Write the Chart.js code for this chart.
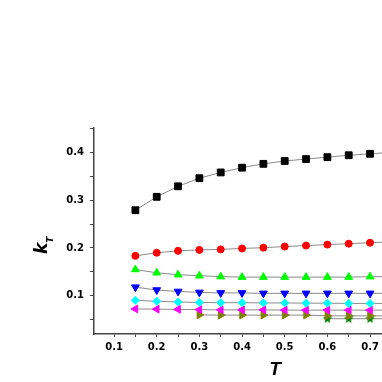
<!DOCTYPE html>
<html><head><meta charset="utf-8">
<script src="https://cdn.jsdelivr.net/npm/chart.js@4"></script>
<style>html,body{margin:0;padding:0;background:#fff}canvas{display:block}</style>
</head><body>
<canvas id="c" width="382" height="382"></canvas>
<script>
const T = [0.15,0.2,0.25,0.3,0.35,0.4,0.45,0.5,0.55,0.6,0.65,0.7,0.75];
const kSquare   = [0.279,0.307,0.329,0.346,0.358,0.368,0.376,0.382,0.386,0.390,0.394,0.397,0.400];
const kCircle   = [0.1835,0.190,0.194,0.196,0.197,0.199,0.2006,0.203,0.205,0.207,0.209,0.211,0.213];
const kTriUp    = [0.155,0.148,0.144,0.142,0.140,0.139,0.139,0.139,0.139,0.139,0.139,0.140,0.140];
const kTriDown  = [0.118,0.112,0.109,0.107,0.106,0.106,0.105,0.105,0.105,0.105,0.105,0.105,0.105];
const kDiamond  = [0.0905,0.0885,0.087,0.086,0.0855,0.0855,0.085,0.085,0.0845,0.0845,0.084,0.084,0.084];
const kTriLeft  = [0.0725,0.072,0.0715,0.071,0.0705,0.0705,0.0705,0.070,0.070,0.070,0.070,0.070,0.070];
const T_olive   = [0.3,0.35,0.4,0.45,0.5,0.55,0.6,0.65,0.7,0.75];
const kTriRight = [0.060,0.0595,0.0595,0.0595,0.0595,0.0595,0.058,0.058,0.058,0.058];
const T_star    = [0.6,0.65,0.7,0.75];
const kStar     = [0.052,0.052,0.052,0.052];
const xTicks = [0.1,0.15,0.2,0.25,0.3,0.35,0.4,0.45,0.5,0.55,0.6,0.65,0.7];
const yTicks = [0.05,0.1,0.15,0.2,0.25,0.3,0.35,0.4,0.45];

function pts(xs, ys){ return xs.map((x,i)=>({x:x,y:ys[i]})); }

function starCanvas(color){
  const c = document.createElement('canvas');
  c.width = 11; c.height = 11;
  const g = c.getContext('2d');
  g.fillStyle = color;
  g.beginPath();
  for (let i=0;i<10;i++){
    const r = i%2===0 ? 5 : 2.2;
    const a = -Math.PI/2 + i*Math.PI/5;
    const px = 5.5 + r*Math.cos(a), py = 5.8 + r*Math.sin(a);
    if(i===0) g.moveTo(px,py); else g.lineTo(px,py);
  }
  g.closePath(); g.fill();
  return c;
}

function ds(data, color, style, radius, rot){
  return {data:data, borderColor:'#8a8a8a', borderWidth:1, backgroundColor:color,
    pointBackgroundColor:color, pointBorderColor:color, pointBorderWidth:1,
    pointStyle:style, pointRadius:radius, pointRotation:rot||0, tension:0, fill:false};
}

const titles = {
  id:'titles',
  afterDraw(chart){
    const ctx = chart.ctx;
    ctx.save();
    ctx.fillStyle = '#000';
    ctx.font = 'italic bold 19px "Liberation Sans", Arial, sans-serif';
    ctx.textAlign = 'center';
    ctx.textBaseline = 'alphabetic';
    ctx.fillText('T', 275, 375);
    ctx.translate(47, 254);
    ctx.rotate(-Math.PI/2);
    ctx.textAlign = 'left';
    ctx.font = 'italic bold 17px "DejaVu Sans", sans-serif';
    ctx.fillText('k', 0, 0);
    const w = ctx.measureText('k').width;
    ctx.font = 'italic bold 9px "DejaVu Sans", sans-serif';
    ctx.fillText('T', w, 6);
    ctx.restore();
  }
};

const tickFont = {family:'"DejaVu Sans", sans-serif', weight:'bold', size:10};

new Chart(document.getElementById('c'), {
  type:'line',
  data:{datasets:[
    ds(pts(T,kSquare),'#000000','rect',4.8),
    ds(pts(T,kCircle),'#ff0000','circle',3.5),
    ds(pts(T,kTriUp),'#00ff00','triangle',4.5),
    ds(pts(T,kTriDown),'#0000ff','triangle',4.5,180),
    ds(pts(T,kDiamond),'#00ffff','rectRot',4),
    ds(pts(T,kTriLeft),'#ff00ff','triangle',4.5,270),
    ds(pts(T_olive,kTriRight),'#808000','triangle',4.5,90),
    ds(pts(T_star,kStar),'#008000',starCanvas('#008000'),5)
  ]},
  options:{
    responsive:false, animation:false,
    layout:{autoPadding:false, padding:{top:128,left:0,right:0,bottom:0}},
    plugins:{legend:{display:false}, tooltip:{enabled:false}},
    scales:{
      x:{type:'linear', min:0.053, max:0.728,
        afterBuildTicks(s){ s.ticks = xTicks.map(v=>({value:v})); },
        afterFit(s){ s.height = 48; s.paddingRight = 0; s.paddingLeft = 0; },
        ticks:{autoSkip:false, maxRotation:0, padding:4, color:'#000', font:tickFont,
          callback:(v)=> (Math.round(v*100)%10===0 ? v.toFixed(1) : '')},
        grid:{drawOnChartArea:false, drawTicks:true, tickLength:3, color:'#444', tickWidth:1},
        border:{display:true, color:'#444', width:1.5}
      },
      y:{type:'linear', min:0.02, max:0.451,
        afterBuildTicks(s){ s.ticks = yTicks.map(v=>({value:v})); },
        afterFit(s){ s.width = 94; s.paddingTop = 0; s.paddingBottom = 0; },
        ticks:{autoSkip:false, padding:6, color:'#000', font:tickFont,
          callback:(v)=> (Math.round(v*100)%10===0 ? v.toFixed(1) : '')},
        grid:{drawOnChartArea:false, drawTicks:true, tickLength:4, color:'#444', tickWidth:1},
        border:{display:true, color:'#444', width:1.5}
      }
    }
  },
  plugins:[titles]
});
</script>
</body></html>
